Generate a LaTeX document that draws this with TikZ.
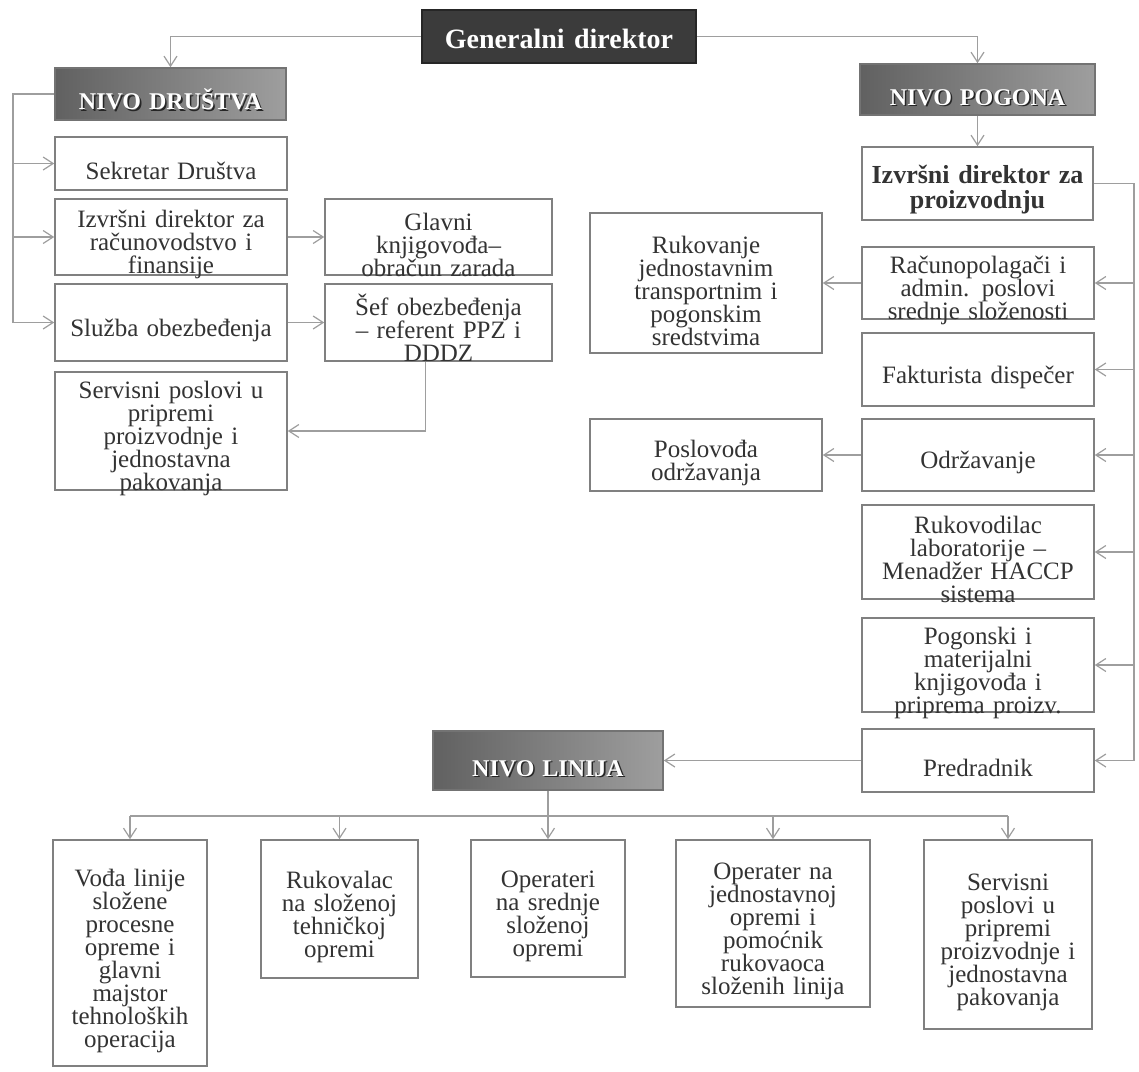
\documentclass[tikz,border=0pt]{standalone}
\usepackage{fontspec}
\setmainfont{Liberation Serif}
\usepackage{tikz}
\usetikzlibrary{arrows.meta}
\def\lift{16.5pt}
\tikzset{lift/.code={\def\lift{#1}}}
\tikzset{box/.style={draw=black!50, line width=0.8pt, fill=white, text=black!80, inner xsep=0pt, inner ysep=-15pt, align=center,
  font=\fontsize{12.5}{11.5}\selectfont, execute at begin node={\lineskiplimit=-20pt\rule{0pt}{\lift}}}}
\tikzset{sz/.style 2 args={minimum width=#1*0.5pt, minimum height=#2*0.5pt, text width=#1*0.5pt-6pt}}
\tikzset{level/.style={box, draw=black!55, left color=black!62, right color=black!38, font=\bfseries\fontsize{12}{12}\selectfont}}
\tikzset{head/.style={box, lift=12.5pt, draw=black!85, fill=black!77, text=white, font=\bfseries\fontsize{14}{14}\selectfont}}
\tikzset{conn/.style={draw=black!38, line width=0.6pt}}
\tikzset{arr/.style={conn, -{Straight Barb[length=5pt,width=6.5pt]}}}
\newcommand{\embossed}[1]{\makebox[0pt][l]{\kern0.8pt\raisebox{-0.8pt}{\textcolor{black!85}{#1}}}\textcolor{white}{#1}}

\begin{document}
\begin{tikzpicture}[x=0.5pt,y=-0.5pt]
  \fill[white] (0,0) rectangle (1139,1071);
  \useasboundingbox (0,0) rectangle (1139,1071);

  % Vrh i nivoi
  \node[head, sz={274}{53}] (gen) at (559,36.5) {Generalni direktor};
  \node[level, sz={231}{52}] (drus) at (170.5,94) {\embossed{NIVO DRUŠTVA}};
  \node[level, sz={235}{51}] (pog) at (977.5,89.5) {\embossed{NIVO POGONA}};
  \node[level, sz={230}{59}] (lin) at (548,760.5) {\embossed{NIVO LINIJA}};

  % Nivo drustva
  \node[box, sz={232}{53}] (sek) at (171,163.5) {Sekretar Društva};
  \node[box, sz={232}{76}] (izvfin) at (171,237) {Izvršni direktor za\\računovodstvo i\\finansije};
  \node[box, sz={227}{76}] (glav) at (438.5,237) {Glavni\\knjigovođa–\\obračun zarada};
  \node[box, sz={232}{77}] (sluz) at (171,322.5) {Služba obezbeđenja};
  \node[box, sz={227}{77}] (sef) at (438.5,322.5) {Šef obezbeđenja\\– referent PPZ i\\DDDZ};
  \node[box, sz={232}{118}] (servd) at (171,431) {Servisni poslovi u\\pripremi\\proizvodnje i\\jednostavna\\pakovanja};

  % Nivo pogona
  \node[box, sz={231}{73}, text width=112pt, lift=15pt, font=\bfseries\fontsize{13}{12.5}\selectfont] (izvpro) at (977.5,183.5) {Izvršni direktor za\\proizvodnju};
  \node[box, sz={232}{140}] (ruk) at (706,283) {Rukovanje\\jednostavnim\\transportnim i\\pogonskim\\sredstvima};
  \node[box, sz={232}{72}] (racun) at (978,283) {Računopolagači i\\admin. poslovi\\srednje složenosti};
  \node[box, sz={232}{73}] (fakt) at (978,369.5) {Fakturista dispečer};
  \node[box, sz={232}{72}] (posl) at (706,455) {Poslovođa\\održavanja};
  \node[box, sz={232}{72}] (odrz) at (978,455) {Održavanje};
  \node[box, sz={232}{94}] (lab) at (978,552) {Rukovodilac\\laboratorije –\\Menadžer HACCP\\sistema};
  \node[box, sz={232}{94}] (pogk) at (978,665) {Pogonski i\\materijalni\\knjigovođa i\\priprema proizv.};
  \node[box, sz={232}{63}] (pred) at (978,760.5) {Predradnik};

  % Nivo linija
  \node[box, sz={154}{226}] (voda) at (130,953) {Vođa linije\\složene\\procesne\\opreme i\\glavni\\majstor\\tehnoloških\\operacija};
  \node[box, sz={157}{138}] (rukv) at (339.5,909) {Rukovalac\\na složenoj\\tehničkoj\\opremi};
  \node[box, sz={154}{137}] (oper) at (548,908.5) {Operateri\\na srednje\\složenoj\\opremi};
  \node[box, sz={194}{167}] (operj) at (773,923.5) {Operater na\\jednostavnoj\\opremi i\\pomoćnik\\rukovaoca\\složenih linija};
  \node[box, sz={168}{189}] (servb) at (1008,934.5) {Servisni\\poslovi u\\pripremi\\proizvodnje i\\jednostavna\\pakovanja};

  % Veze -- drustvo
  \draw[arr] (gen.west) -| (drus.north);
  \draw[arr] (gen.east) -| (pog.north);
  \coordinate (lbus) at (13,94);
  \draw[conn] (drus.west) -- (lbus) -- (lbus |- sluz.west);
  \foreach \n in {sek,izvfin,sluz}
    \draw[arr] (lbus |- \n.west) -- (\n.west);
  \draw[arr] (izvfin.east) -- (glav.west);
  \draw[arr] (sluz.east) -- (sef.west);
  \draw[arr] ([xshift=-6.5pt]sef.south) |- (servd.east);

  % Veze -- pogon
  \draw[arr] (pog.south) -- (izvpro.north);
  \coordinate (rbus) at (1134,183.5);
  \draw[conn] (izvpro.east) -- (rbus) -- (rbus |- pred.east);
  \foreach \n in {racun,fakt,odrz,lab,pogk,pred}
    \draw[arr] (rbus |- \n.east) -- (\n.east);
  \draw[arr] (racun.west) -- (ruk.east);
  \draw[arr] (odrz.west) -- (posl.east);
  \draw[arr] (pred.west) -- (lin.east);

  % Veze -- linija
  \coordinate (bbus) at (548,816);
  \draw[arr] (lin.south) -- (oper.north);
  \draw[conn] (voda.north |- bbus) -- (servb.north |- bbus);
  \foreach \n in {voda,rukv,operj,servb}
    \draw[arr] (\n.north |- bbus) -- (\n.north);
\end{tikzpicture}
\end{document}
